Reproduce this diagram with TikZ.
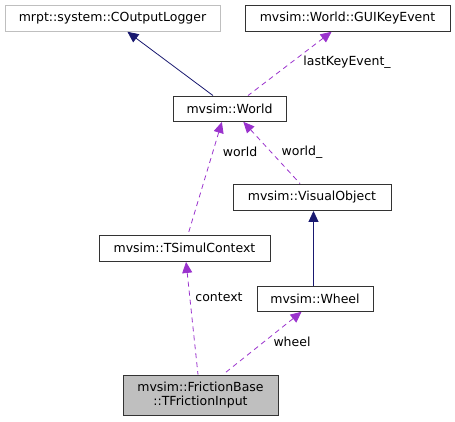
\documentclass[tikz,border=0pt]{standalone}
\usepackage{fontspec}
\setmainfont{DejaVu Sans}
\usetikzlibrary{arrows.meta}
\definecolor{inhcol}{HTML}{191970}
\definecolor{usecol}{HTML}{9A32CD}
\definecolor{grayb}{HTML}{BFBFBF}
\begin{document}
\begin{tikzpicture}[x=1pt,y=-1pt,
  box/.style={draw=black!80!white, line width=0.9pt, inner sep=0pt, align=center,
    font=\fontsize{12.5}{14}\selectfont},
  inh/.style={draw=inhcol, line width=0.8pt, {Triangle[length=11pt,width=10pt]}-, shorten <=0.5pt},
  use/.style={draw=usecol, line width=0.8pt, dash pattern=on 5pt off 4pt, {Triangle[length=11pt,width=10pt]}-, shorten <=0.5pt},
  lbl/.style={font=\fontsize{12.5}{14}\selectfont, inner sep=0pt}]
\useasboundingbox (0,0) rectangle (455,421);
\node[box, draw=grayb, minimum width=215pt, minimum height=26pt] (logger) at (112.5,18) {mrpt::system::COutputLogger};
\node[box, minimum width=205pt, minimum height=26pt] (gui) at (347.5,18) {mvsim::World::GUIKeyEvent};
\node[box, minimum width=113pt, minimum height=25pt] (world) at (229.5,108.5) {mvsim::World};
\node[box, minimum width=158pt, minimum height=26pt] (vis) at (312,197) {mvsim::VisualObject};
\node[box, minimum width=171pt, minimum height=26pt] (ctx) at (184.5,248) {mvsim::TSimulContext};
\node[box, minimum width=116pt, minimum height=25pt] (wheel) at (315,298.5) {mvsim::Wheel};
\node[box, fill=grayb, minimum width=155pt, minimum height=40pt] (fi) at (200.5,395) {mvsim::FrictionBase\\::TFrictionInput};

\draw[inh] ([xshift=14.5pt]logger.south) -- ([xshift=-16.5pt]world.north);
\draw[use] ([xshift=-15.5pt]gui.south) -- ([xshift=18.5pt]world.north);
\node[lbl] (lk) at (347,62) {lastKeyEvent\_};
\draw[use] ([xshift=-7.5pt]world.south) -- ([xshift=3.5pt]ctx.north);
\draw[use] ([xshift=13.5pt]world.south) -- ([xshift=-12pt]vis.north);
\node[lbl] (lw) at (240,152) {world};
\node[lbl] (lw2) at (302,152) {world\_};
\draw[inh] ([xshift=1.5pt]vis.south) -- ([xshift=-1.5pt]wheel.north);
\draw[use] ([xshift=1.5pt]ctx.south) -- ([xshift=-2.5pt]fi.north);
\node[lbl] (lc) at (219,297) {context};
\draw[use] ([xshift=-13pt]wheel.south) -- ([xshift=22.5pt]fi.north);
\node[lbl] (lwh) at (292,342) {wheel};
\end{tikzpicture}
\end{document}
